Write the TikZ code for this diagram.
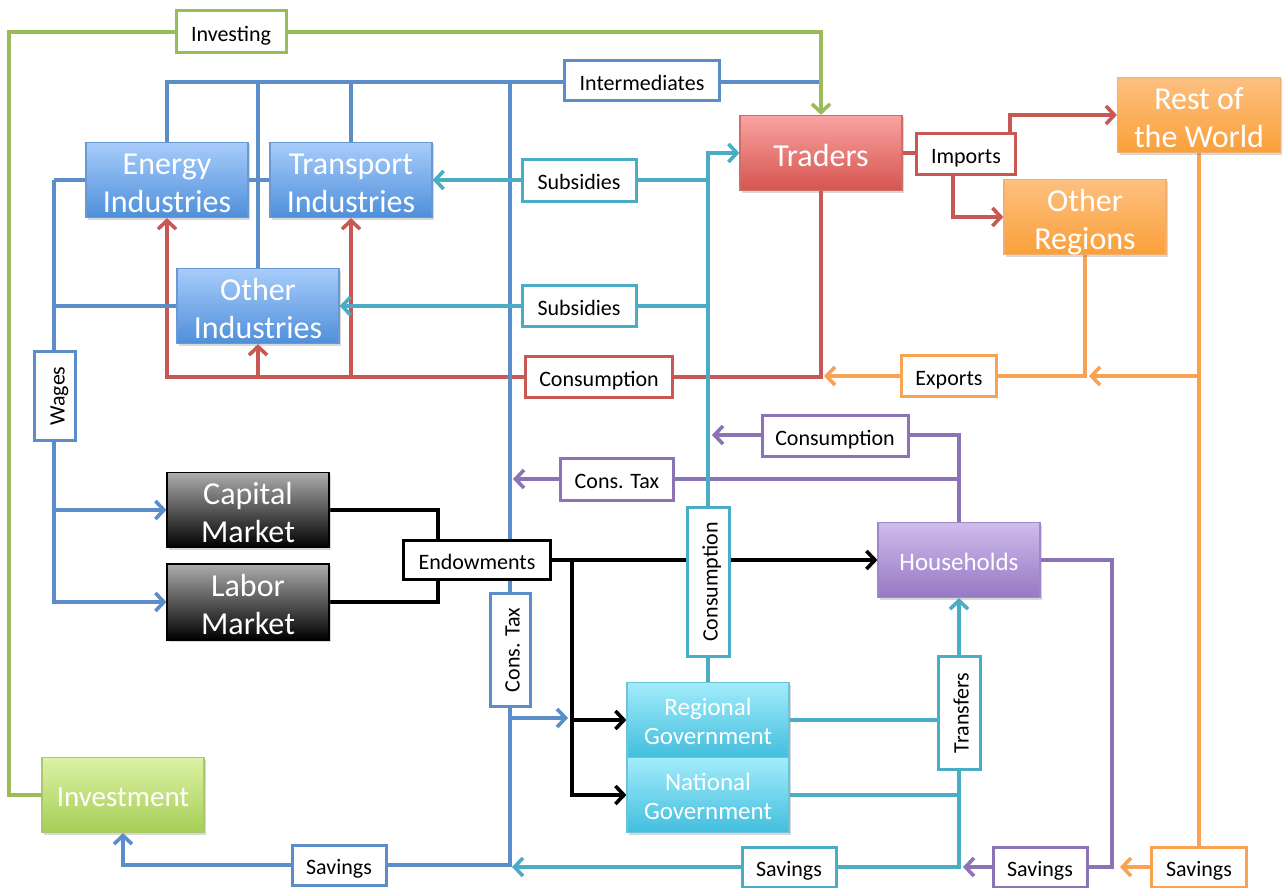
\documentclass[tikz,border=0pt]{standalone}
\usepackage{fontspec}
\usepackage{graphicx}
\setmainfont{Carlito}
\usetikzlibrary{arrows.meta,shadows,calc}
\pgfdeclarelayer{bg}
\pgfdeclarelayer{paper}
\pgfsetlayers{paper,bg,main}
% line colours
\definecolor{cBlue}{RGB}{91,141,200}
\definecolor{cGreen}{RGB}{155,187,89}
\definecolor{cRed}{RGB}{200,88,84}
\definecolor{cOrange}{RGB}{248,163,84}
\definecolor{cCyan}{RGB}{75,172,198}
\definecolor{cPurple}{RGB}{140,115,180}
% node gradients
\definecolor{nBlueT}{RGB}{168,204,250}
\definecolor{nBlueB}{RGB}{78,143,218}
\definecolor{nBlueD}{RGB}{105,152,212}
\definecolor{nRedT}{RGB}{249,163,160}
\definecolor{nRedB}{RGB}{214,84,79}
\definecolor{nRedD}{RGB}{205,110,105}
\definecolor{nOrT}{RGB}{253,192,128}
\definecolor{nOrB}{RGB}{250,160,58}
\definecolor{nOrD}{RGB}{240,175,110}
\definecolor{nGrT}{RGB}{220,242,165}
\definecolor{nGrB}{RGB}{166,206,86}
\definecolor{nGrD}{RGB}{170,200,110}
\definecolor{nBkT}{RGB}{172,172,172}
\definecolor{nBkB}{RGB}{0,0,0}
\definecolor{nPuT}{RGB}{207,188,236}
\definecolor{nPuB}{RGB}{150,120,196}
\definecolor{nPuD}{RGB}{160,135,200}
\definecolor{nCyT}{RGB}{162,236,251}
\definecolor{nCyB}{RGB}{66,190,222}
\definecolor{nCyD}{RGB}{110,195,220}
\tikzset{
  big/.style={draw, line width=1.2pt, minimum width=162pt, minimum height=75pt,
    inner sep=0pt, align=center, text=white, font=\fontsize{32}{38}\selectfont,
    text height=64pt, text depth=0pt,
    drop shadow={opacity=0.3, shadow xshift=2pt, shadow yshift=-2pt}},
  oneline/.style={text height=27pt, text depth=0pt},
  bluebox/.style={big, draw=nBlueD, top color=nBlueT, bottom color=nBlueB},
  redbox/.style={big, draw=nRedD, top color=nRedT, bottom color=nRedB},
  orbox/.style={big, draw=nOrD, top color=nOrT, bottom color=nOrB},
  grbox/.style={big, draw=nGrD, top color=nGrT, bottom color=nGrB},
  bkbox/.style={big, draw=black, top color=nBkT, bottom color=nBkB},
  pubox/.style={big, draw=nPuD, top color=nPuT, bottom color=nPuB,
    font=\fontsize{25}{29}\selectfont, text height=20pt, text depth=0pt},
  cybox/.style={big, draw=nCyD, top color=nCyT, bottom color=nCyB,
    font=\fontsize{25}{29}\selectfont, text height=48pt, text depth=0pt},
  lab/.style={draw, fill=white, line width=3pt, inner sep=0pt, text=black,
    font=\fontsize{22}{24}\selectfont, text height=19pt, text depth=0pt},
  conn/.style={line width=3.6pt},
  arr/.style={-{Straight Barb[length=8.5pt,width=18pt]}},
}
\newcommand{\vlab}[1]{\rotatebox{90}{\raisebox{0pt}[19pt][0pt]{#1}}}
\begin{document}
\begin{tikzpicture}[x=1pt,y=-1pt]
\begin{pgfonlayer}{paper}
\fill[white] (0,0) rectangle (1282,888);
\end{pgfonlayer}
\useasboundingbox (0,0) rectangle (1282,888);

% ---------- main nodes ----------
\node[bluebox] (energy) at (167,180) {Energy\\Industries};
\node[bluebox] (transport) at (351,180) {Transport\\Industries};
\node[bluebox] (other) at (258,306) {Other\\Industries};
\node[redbox, oneline] (traders) at (821,153) {Traders};
\node[orbox, minimum width=163pt] (rotw) at (1199,115) {Rest of\\the World};
\node[orbox] (oreg) at (1085,217) {Other\\Regions};
\node[bkbox] (capital) at (248,510) {Capital\\Market};
\node[bkbox, minimum height=76pt] (labor) at (248,602) {Labor\\Market};
\node[pubox] (hh) at (959,560) {Households};
\node[cybox] (regional) at (708,720) {Regional\\Government};
\node[cybox] (national) at (708,795) {National\\Government};
\node[grbox, font=\fontsize{29}{34}\selectfont, text height=22pt, text depth=0pt] (invest) at (123,795) {Investment};

% ---------- connector labels ----------
\node[lab, draw=cGreen, minimum width=110pt, minimum height=42pt] (investing) at (231,32) {Investing};
\node[lab, draw=cBlue, minimum width=155pt, minimum height=40pt] (intermed) at (642,81) {Intermediates};
\node[lab, draw=cCyan, minimum width=114pt, minimum height=42pt] (sub1) at (579,180) {Subsidies};
\node[lab, draw=cCyan, minimum width=114pt, minimum height=41pt] (sub2) at (579,306) {Subsidies};
\node[lab, draw=cRed, minimum width=99pt, minimum height=40pt] (imports) at (966,154) {Imports};
\node[lab, draw=cOrange, minimum width=95pt, minimum height=41pt] (exports) at (949,376) {Exports};
\node[lab, draw=cRed, minimum width=147pt, minimum height=41pt] (consR) at (599,377) {Consumption};
\node[lab, draw=cPurple, minimum width=146pt, minimum height=41pt] (consP) at (835,436) {Consumption};
\node[lab, draw=cPurple, minimum width=113pt, minimum height=42pt] (taxP) at (617,479) {Cons. Tax};
\node[lab, draw=black, minimum width=147pt, minimum height=39pt] (endow) at (477,560) {Endowments};
\node[lab, draw=cBlue, minimum width=41pt, minimum height=89pt, text height=, text depth=] (wages) at (55,396) {\vlab{Wages}};
\node[lab, draw=cBlue, minimum width=40pt, minimum height=113pt, text height=, text depth=] (taxV) at (510,650) {\vlab{Cons. Tax}};
\node[lab, draw=cCyan, minimum width=42pt, minimum height=149pt, text height=, text depth=] (consV) at (708,582) {\vlab{Consumption}};
\node[lab, draw=cCyan, minimum width=42pt, minimum height=113pt, text height=, text depth=] (transfers) at (959,713) {\vlab{Transfers}};
\node[lab, draw=cBlue, minimum width=94pt, minimum height=40pt] (savB) at (339,865) {Savings};
\node[lab, draw=cCyan, minimum width=94pt, minimum height=40pt] (savC) at (789,867) {Savings};
\node[lab, draw=cPurple, minimum width=94pt, minimum height=40pt] (savP) at (1040,867) {Savings};
\node[lab, draw=cOrange, minimum width=95pt, minimum height=40pt] (savO) at (1199,867) {Savings};

% ---------- junction coordinates ----------
\coordinate (gtl) at (9,32);
\coordinate (ib) at (821,82);
\coordinate (btop) at (510,82);
\coordinate (bbot) at (510,865);
\coordinate (wt) at (54,180);
\coordinate (ctj) at (510,718);
\coordinate (cte) at (568,718);
\coordinate (rl) at (167,377);
\coordinate (oj) at (1199,376);
\coordinate (otip) at (1089,376);
\coordinate (etip) at (824,376);
\coordinate (ctip) at (512,867);
\coordinate (ptip1) at (712,435);
\coordinate (ptip2) at (513,479);
\coordinate (pcor) at (1112,867);
\coordinate (ptip3) at (963,867);
\coordinate (otip2) at (1120,867);
\coordinate (bj) at (572,560);

\begin{pgfonlayer}{bg}
% red
\draw[conn, cRed, arr] (traders.south) |- (rl) -- (energy.south);
\draw[conn, cRed, arr] (transport.south |- rl) -- (transport.south);
\draw[conn, cRed, arr] (other.south |- rl) -- (other.south);
\draw[conn, cRed] (traders.east) -- (traders.east -| imports.west);
\draw[conn, cRed, arr] ([xshift=44pt]imports.north) |- (rotw.west);
\draw[conn, cRed, arr] ([xshift=-13pt]imports.south) |- (oreg.west);
% orange
\draw[conn, cOrange] (rotw.south) -- (savO.north);
\draw[conn, cOrange, arr] (oj) -- (otip);
\draw[conn, cOrange, arr] (oreg.south) |- (etip);
\draw[conn, cOrange, arr] (savO.west) -- (otip2);
% purple
\draw[conn, cPurple, arr] (hh.north) |- (ptip1);
\draw[conn, cPurple, arr] (hh.north |- taxP) -- (ptip2);
\draw[conn, cPurple, arr] (hh.east) -| (pcor) -- (ptip3);
% black
\draw[conn, black] (capital.east) -| ([xshift=-39pt]endow.north);
\draw[conn, black] (labor.east) -| ([xshift=-39pt]endow.south);
\draw[conn, black, arr] (endow.east) -- (hh.west);
\draw[conn, black, arr] (bj) |- (regional.west);
\draw[conn, black, arr] (bj) |- (national.west);
% blue
\draw[conn, cBlue] (energy.north) |- (ib);
\draw[conn, cBlue] (transport.north) -- (transport.north |- ib);
\draw[conn, cBlue] (other.north) -- (other.north |- ib);
\draw[conn, cBlue, arr] (btop) -- (bbot) -| (invest.south);
\draw[conn, cBlue] (energy.east) -- (transport.west);
\draw[conn, cBlue] (energy.west) -- (wt);
\draw[conn, cBlue, arr] (wt) |- (capital.west);
\draw[conn, cBlue, arr] (wt) |- (labor.west);
\draw[conn, cBlue] (other.west) -- (other.west -| wt);
\draw[conn, cBlue, arr] (ctj) -- (cte);
% cyan
\draw[conn, cCyan, arr] (regional.north) |- (traders.west);
\draw[conn, cCyan, arr] (regional.north |- sub1) -- (transport.east);
\draw[conn, cCyan, arr] (regional.north |- sub2) -- (other.east);
\draw[conn, cCyan] (regional.east) -- (regional.east -| transfers.west);
\draw[conn, cCyan, arr] (transfers.north) -- (hh.south);
\draw[conn, cCyan] (national.east) -- (national.east -| transfers.south);
\draw[conn, cCyan, arr] (transfers.south) |- (ctip);
% green
\draw[conn, cGreen, arr] (invest.west) -| (gtl) -| (traders.north);
\end{pgfonlayer}
\end{tikzpicture}
\end{document}
